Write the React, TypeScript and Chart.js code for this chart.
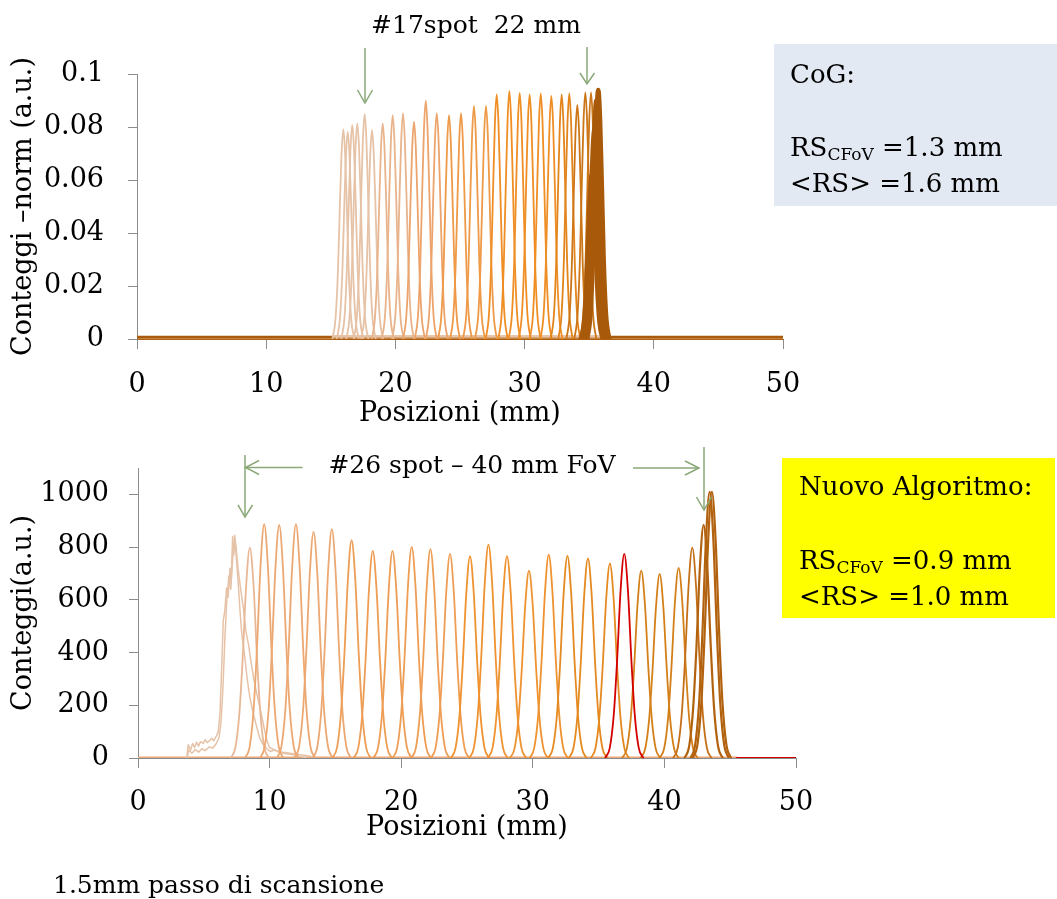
import React, { useEffect, useRef } from 'react';
import { Chart, registerables } from 'chart.js';

Chart.register(...registerables);

const FONT = 'DejaVu Serif';

// ---- Tick values ----
const xTickValues = [0, 10, 20, 30, 40, 50];
const topYTickValues = [0, 0.02, 0.04, 0.06, 0.08, 0.1];
const bottomYTickValues = [0, 200, 400, 600, 800, 1000];

// ---- Top chart (CoG) ----
const topPeakCenters = [15.97, 16.31, 16.66, 17.05, 17.62, 18.19, 19.02, 19.79, 20.59, 21.44, 22.35, 23.2, 24.15, 25.08, 26.08, 27.01, 27.84, 28.82, 29.62, 30.39, 31.25, 32.07, 32.87, 33.46, 34.08, 34.7, 35.14];
const topPeakHeights = [0.0792, 0.0782, 0.0808, 0.0814, 0.0849, 0.0789, 0.0814, 0.0845, 0.0852, 0.082, 0.0899, 0.0852, 0.0845, 0.0852, 0.088, 0.088, 0.0923, 0.0936, 0.0929, 0.0923, 0.0927, 0.0917, 0.0923, 0.0927, 0.0883, 0.0931, 0.0931];
const topEdgeCenters = [35.2, 35.4, 35.55, 35.7];
const topEdgeHeights = [0.062, 0.079, 0.09, 0.094];
const topProfileOffsets = [-0.85, -0.6, -0.42, -0.28, -0.14, 0, 0.14, 0.28, 0.42, 0.6, 0.85];
const topProfileShape = [0, 0.1, 0.32, 0.61, 0.88, 1, 0.88, 0.61, 0.32, 0.1, 0];
const topBaselineX = [0, 50];
const topBaselineY = [0.0007, 0.0007];
const topFloorX = [15.2, 36.6];
const topFloorY = [0.0009, 0.0009];

// ---- Bottom chart (Nuovo Algoritmo) ----
const bottomPeakCenters = [8.5, 9.59, 10.73, 12.0, 13.34, 14.73, 16.23, 17.84, 19.34, 20.8, 22.22, 23.71, 25.23, 26.63, 28.04, 29.71, 31.21, 32.63, 34.19, 35.86, 38.24, 39.64, 41.08, 42.12, 42.98, 43.44, 43.61];
const bottomPeakHeights = [798, 887, 884, 887, 858, 868, 826, 786, 786, 801, 792, 774, 766, 809, 766, 711, 771, 767, 757, 738, 711, 698, 721, 798, 884, 1010, 1010];
const bottomRedCenters = [36.95];
const bottomRedHeights = [774];
const bottomProfileOffsets = [-1.45, -1.1, -0.8, -0.55, -0.28, 0, 0.28, 0.55, 0.8, 1.1, 1.45];
const bottomProfileShape = [0, 0.05, 0.21, 0.47, 0.82, 1, 0.82, 0.47, 0.21, 0.05, 0];
const noisyAX = [3.7, 3.82, 4.0, 4.15, 4.3, 4.45, 4.6, 4.75, 4.96, 5.1, 5.25, 5.47, 5.6, 5.75, 5.97, 6.1, 6.23, 6.35, 6.48, 6.6, 6.73, 6.85, 6.99, 7.08, 7.19, 7.28, 7.37, 7.5, 7.62, 7.75, 7.87, 8.0, 8.12, 8.3, 8.5, 8.75, 9.01, 9.25, 9.52, 9.8, 10.03, 10.4, 10.79, 11.4, 12.05, 12.8];
const noisyAY = [0, 50, 30, 55, 40, 60, 45, 62, 55, 70, 58, 68, 75, 65, 85, 100, 170, 330, 520, 560, 645, 610, 720, 670, 840, 770, 830, 740, 660, 560, 480, 430, 380, 300, 230, 170, 120, 75, 50, 35, 25, 30, 20, 15, 10, 0];
const noisyBX = [3.75, 3.85, 4.1, 4.35, 4.6, 4.85, 5.1, 5.4, 5.7, 5.95, 6.15, 6.3, 6.45, 6.6, 6.75, 6.9, 7.05, 7.2, 7.35, 7.45, 7.6, 7.8, 8.0, 8.2, 8.4, 8.6, 8.8, 9.0, 9.2, 9.4, 9.6, 9.8, 10.0, 10.5, 11.0, 12.0, 13.0, 13.5];
const noisyBY = [0, 30, 18, 32, 22, 35, 28, 42, 38, 55, 75, 130, 260, 450, 600, 690, 640, 760, 845, 800, 720, 640, 570, 480, 430, 360, 300, 250, 205, 160, 110, 65, 40, 28, 22, 15, 8, 0];
const bottomBaselineX = [0, 45.5];
const bottomBaselineY = [0, 0];
const bottomRedBaselineX = [45.5, 50];
const bottomRedBaselineY = [0, 0];

// ---- Styles ----
const topPeakColors = [
  '#e6c2a6', '#e6c2a6', '#e6c2a6', '#e6c2a6', '#e6c2a6', '#e6c2a6',
  '#e9b48c', '#e9b48c', '#e9b48c',
  '#eca46c', '#eca46c', '#eca46c',
  '#ee9a48', '#ee9a48', '#ee9a48', '#ee9a48',
  '#ef8e25', '#ef8e25', '#ef8e25', '#ef8e25', '#ef8e25', '#ef8e25',
  '#e2841a', '#e2841a',
  '#cc7617', '#cc7617', '#cc7617',
];
const bottomPeakColors = [
  '#e8b896',
  '#eca872', '#eca872', '#eca872', '#eca872', '#eca872',
  '#ee9d55', '#ee9d55', '#ee9d55', '#ee9d55', '#ee9d55', '#ee9d55',
  '#ef9230', '#ef9230', '#ef9230', '#ef9230', '#ef9230',
  '#e48a20', '#e48a20', '#e48a20',
  '#d4801a', '#d4801a', '#d4801a',
  '#c57019',
  '#b2620e', '#b2620e', '#b2620e',
];

const pairs = (xs: number[], ys: number[]) => xs.map((x, i) => ({ x, y: ys[i] }));
const peak = (c: number, h: number, offs: number[], shape: number[]) =>
  offs.map((o, i) => ({ x: c + o, y: h * shape[i] }));

const line = (data: any[], color: string, width: number, smooth = true) => ({
  data,
  borderColor: color,
  borderWidth: width,
  pointRadius: 0,
  fill: false,
  tension: smooth ? 0.4 : 0,
  cubicInterpolationMode: smooth ? 'monotone' : 'default',
  borderJoinStyle: 'round',
  borderCapStyle: 'round',
});

const tickFont = { family: FONT, size: 27 };
const titleFont = { family: FONT, size: 27 };

function makeScales(opts: {
  yTicks: number[]; yMax: number; yWidth: number; xHeight: number; yTitle: string;
  xPad: number; yPad: number; xBorder: string;
}) {
  return {
    x: {
      type: 'linear',
      min: 0,
      max: 50,
      afterBuildTicks: (a: any) => { a.ticks = xTickValues.map((v) => ({ value: v })); },
      afterFit: (s: any) => { s.height = opts.xHeight; s.paddingLeft = 0; s.paddingRight = 0; },
      ticks: { font: tickFont, color: '#000', padding: opts.xPad, maxRotation: 0, autoSkip: false },
      grid: { display: true, drawOnChartArea: false, drawTicks: true, tickLength: 10, color: '#8c8c8c', lineWidth: 1 },
      border: { display: true, color: opts.xBorder, width: 1 },
      title: { display: true, text: 'Posizioni (mm)', font: titleFont, color: '#000', padding: 0 },
    },
    y: {
      type: 'linear',
      min: 0,
      max: opts.yMax,
      afterBuildTicks: (a: any) => { a.ticks = opts.yTicks.map((v) => ({ value: v })); },
      afterFit: (s: any) => { s.width = opts.yWidth; s.paddingTop = 0; s.paddingBottom = 0; },
      ticks: { font: tickFont, color: '#000', padding: opts.yPad, callback: (v: any) => String(v) },
      grid: { display: true, drawOnChartArea: false, drawTicks: true, tickLength: 9, color: '#8c8c8c', lineWidth: 1 },
      border: { display: true, color: '#8c8c8c', width: 1 },
      title: { display: true, text: opts.yTitle, font: titleFont, color: '#000', padding: { top: 8, bottom: 0 } },
    },
  };
}

function topConfig(): any {
  const painted: any[] = [];
  painted.push(line(pairs(topBaselineX, topBaselineY), '#a95b0b', 3, false));
  painted.push(line(pairs(topFloorX, topFloorY), '#e8c3a6', 2.5, false));
  topPeakCenters.forEach((c, i) => {
    painted.push(line(peak(c, topPeakHeights[i], topProfileOffsets, topProfileShape), topPeakColors[i], 1.8));
  });
  topEdgeCenters.forEach((c, i) => {
    painted.push(line(peak(c, topEdgeHeights[i], topProfileOffsets, topProfileShape), '#a85a0a', 4.5));
  });
  return {
    type: 'line',
    data: { datasets: painted.reverse() },
    options: {
      responsive: false,
      animation: false,
      events: [],
      layout: { padding: { top: 74, right: 47, bottom: 0, left: 0 } },
      plugins: { legend: { display: false }, tooltip: { enabled: false }, title: { display: false } },
      scales: makeScales({
        yTicks: topYTickValues, yMax: 0.1, yWidth: 137, xHeight: 91,
        yTitle: 'Conteggi –norm (a.u.)', xPad: 20, yPad: 24, xBorder: '#b0600c',
      }),
    },
  };
}

function bottomConfig(): any {
  const painted: any[] = [];
  painted.push(line(pairs(bottomBaselineX, bottomBaselineY), '#eba87a', 3, false));
  painted.push(line(pairs(bottomRedBaselineX, bottomRedBaselineY), '#d40000', 2, false));
  painted.push(line(pairs(noisyAX, noisyAY), '#e6c3a8', 1.5, false));
  painted.push(line(pairs(noisyBX, noisyBY), '#e6c3a8', 1.5, false));
  bottomPeakCenters.forEach((c, i) => {
    if (i >= 24) return;
    painted.push(line(peak(c, bottomPeakHeights[i], bottomProfileOffsets, bottomProfileShape), bottomPeakColors[i], 1.8));
  });
  bottomRedCenters.forEach((c, i) => {
    painted.push(line(peak(c, bottomRedHeights[i], bottomProfileOffsets, bottomProfileShape), '#d40000', 1.8));
  });
  bottomPeakCenters.forEach((c, i) => {
    if (i < 24) return;
    painted.push(line(peak(c, bottomPeakHeights[i], bottomProfileOffsets, bottomProfileShape), bottomPeakColors[i], 2.2));
  });
  return {
    type: 'line',
    data: { datasets: painted.reverse() },
    options: {
      responsive: false,
      animation: false,
      events: [],
      layout: { padding: { top: 28, right: 44, bottom: 0, left: 0 } },
      plugins: { legend: { display: false }, tooltip: { enabled: false }, title: { display: false } },
      scales: makeScales({
        yTicks: bottomYTickValues, yMax: 1100, yWidth: 138, xHeight: 86,
        yTitle: 'Conteggi(a.u.)', xPad: 19, yPad: 20, xBorder: '#8c8c8c',
      }),
    },
  };
}

function ChartCanvas(props: { make: () => any; left: number; top: number; width: number; height: number }) {
  const ref = useRef<HTMLCanvasElement | null>(null);
  useEffect(() => {
    if (!ref.current) return;
    const chart = new Chart(ref.current, props.make());
    return () => chart.destroy();
  }, []);
  return (
    <canvas
      ref={ref}
      width={props.width}
      height={props.height}
      style={{ position: 'absolute', left: props.left, top: props.top, width: props.width, height: props.height }}
    />
  );
}

const ARROW = '#8aa878';

function Overlay() {
  return (
    <svg
      width={1057}
      height={899}
      style={{ position: 'absolute', left: 0, top: 0, pointerEvents: 'none' }}
      fontFamily={FONT}
    >
      {/* CoG box */}
      <rect x={774} y={44} width={283} height={162} fill="#e3e9f2" />
      <text x={790} y={83} fontSize={26} fill="#000">CoG:</text>
      <text x={790} y={156} fontSize={26} fill="#000" style={{ whiteSpace: 'pre' }}>
        RS<tspan fontSize={17} dy={4}>CFoV</tspan><tspan dy={-4}> =1.3 mm</tspan>
      </text>
      <text x={790} y={192} fontSize={26} fill="#000" style={{ whiteSpace: 'pre' }}>{'<RS> =1.6 mm'}</text>

      {/* Nuovo Algoritmo box */}
      <rect x={782} y={458} width={273} height={160} fill="#ffff00" />
      <text x={799} y={495} fontSize={26} fill="#000">Nuovo Algoritmo:</text>
      <text x={799} y={569} fontSize={26} fill="#000" style={{ whiteSpace: 'pre' }}>
        RS<tspan fontSize={17} dy={4}>CFoV</tspan><tspan dy={-4}> =0.9 mm</tspan>
      </text>
      <text x={799} y={605} fontSize={26} fill="#000" style={{ whiteSpace: 'pre' }}>{'<RS> =1.0 mm'}</text>

      {/* Top annotation */}
      <text x={476} y={33} fontSize={25} fill="#000" textAnchor="middle" style={{ whiteSpace: 'pre' }}>{'#17spot  22 mm'}</text>
      <g stroke={ARROW} strokeWidth={1.5} fill="none">
        <line x1={365} y1={48} x2={365} y2={103} />
        <polyline points="357.5,90 365,103 372.5,90" />
        <line x1={587} y1={47} x2={587} y2={84} />
        <polyline points="580,73 587,84 594.5,73" />
      </g>

      {/* Bottom annotation */}
      <text x={472} y={473} fontSize={25} fill="#000" textAnchor="middle" style={{ whiteSpace: 'pre' }}>{'#26 spot – 40 mm FoV'}</text>
      <g stroke={ARROW} strokeWidth={1.5} fill="none">
        <line x1={245} y1={455} x2={245} y2={517} />
        <polyline points="238,505 245,517 252.5,505" />
        <line x1={302.5} y1={467.5} x2={245.5} y2={467.5} />
        <polyline points="259,460.5 245.5,467.5 259,474.5" />
        <line x1={633} y1={468} x2={699} y2={468} />
        <polyline points="685,461 699,468 685,475" />
        <line x1={704} y1={447} x2={704} y2={510} />
        <polyline points="696.5,497 704,510 711.5,497" />
      </g>

      {/* Footer */}
      <text x={53} y={893} fontSize={25} fill="#000">1.5mm passo di scansione</text>
    </svg>
  );
}

export default function App() {
  return (
    <div style={{ position: 'absolute', left: 0, top: 0, width: 1057, height: 899, background: '#ffffff', overflow: 'hidden' }}>
      <ChartCanvas make={topConfig} left={0} top={0} width={830} height={430} />
      <ChartCanvas make={bottomConfig} left={0} top={440} width={840} height={404} />
      <Overlay />
    </div>
  );
}
